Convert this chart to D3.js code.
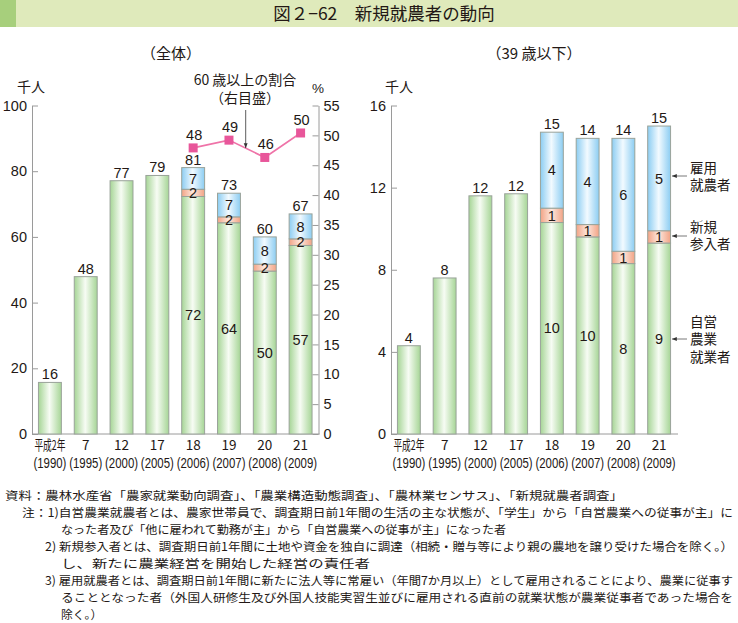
<!DOCTYPE html>
<html><head><meta charset="utf-8">
<script src="https://cdn.jsdelivr.net/npm/d3@7"></script>
<style>
html,body{margin:0;padding:0;background:#fff;}
svg{display:block;font-family:"Liberation Sans",Arial,"Noto Sans CJK JP",sans-serif;}
.jp{font-family:"Noto Sans CJK JP",sans-serif;}
</style></head>
<body>
<svg id="c" width="738" height="623"></svg>
<script>
// ---------- data ----------
const categories = ["平成2年","7","12","17","18","19","20","21"];
const yearLabels = ["(1990)","(1995)","(2000)","(2005)","(2006)","(2007)","(2008)","(2009)"];
// 全体 (千人)
const allSelfEmployed = [15.7, 47.9, 77.1, 78.7, 72.3, 64.3, 49.6, 57.4];
const allNewEntrants  = [0, 0, 0, 0, 2.2, 1.8, 2.1, 2.0];
const allEmployed     = [0, 0, 0, 0, 6.6, 7.2, 8.3, 7.6];
// 60歳以上の割合 (%), years 18-21
const ratioCategories = ["18","19","20","21"];
const ratio60Plus     = [47.9, 49.2, 46.3, 50.4];
// 39歳以下 (千人)
const youngSelfEmployed = [4.3, 7.6, 11.6, 11.7, 10.3, 9.6, 8.3, 9.3];
const youngNewEntrants  = [0, 0, 0, 0, 0.7, 0.6, 0.6, 0.6];
const youngEmployed     = [0, 0, 0, 0, 3.7, 4.2, 5.5, 5.1];
const leftTicks  = [0, 20, 40, 60, 80, 100];
const pctTicks   = [0,5,10,15,20,25,30,35,40,45,50,55];
const rightTicks = [0, 4, 8, 12, 16];
const footnotes = [
  "資料：農林水産省「農家就業動向調査」、「農業構造動態調査」、「農林業センサス」、「新規就農者調査」",
  "注：1)自営農業就農者とは、農家世帯員で、調査期日前1年間の生活の主な状態が、「学生」から「自営農業への従事が主」に",
  "なった者及び「他に雇われて勤務が主」から「自営農業への従事が主」になった者",
  "2) 新規参入者とは、調査期日前1年間に土地や資金を独自に調達（相続・贈与等により親の農地を譲り受けた場合を除く。）",
  "し、新たに農業経営を開始した経営の責任者",
  "3) 雇用就農者とは、調査期日前1年間に新たに法人等に常雇い（年間7か月以上）として雇用されることにより、農業に従事す",
  "ることとなった者（外国人研修生及び外国人技能実習生並びに雇用される直前の就業状態が農業従事者であった場合を",
  "除く。）"
];

// ---------- drawing ----------
const svg = d3.select("#c");
const TXT = "#231815", AX = "#9a9a9a";

// gradients
const defs = svg.append("defs");
function grad(id, edge, mid){
  const g = defs.append("linearGradient").attr("id", id).attr("x1","0%").attr("x2","100%").attr("y1","0%").attr("y2","0%");
  g.append("stop").attr("offset","0%").attr("stop-color", edge);
  g.append("stop").attr("offset","48%").attr("stop-color", mid);
  g.append("stop").attr("offset","100%").attr("stop-color", edge);
}
grad("gGreen", "#a6d596", "#f7fcf4");
grad("gBlue",  "#8ccdf2", "#f2faff");
grad("gPink",  "#f2a385", "#fde8de");
const mk = defs.append("marker").attr("id","arr").attr("viewBox","0 0 10 10").attr("refX",10).attr("refY",5)
  .attr("markerWidth",6).attr("markerHeight",6).attr("orient","auto-start-reverse");
mk.append("path").attr("d","M0,1 L10,5 L0,9 Z").attr("fill","#333");

// title band
svg.append("rect").attr("x",0).attr("y",0).attr("width",738).attr("height",27).attr("fill","#dfeabb");
svg.append("rect").attr("x",0).attr("y",0).attr("width",16).attr("height",27).attr("fill","#a7cf7c");
svg.append("text").attr("class","jp").attr("x",384).attr("y",20).attr("text-anchor","middle")
  .attr("font-size",17.5).attr("fill",TXT).text("図２−62　新規就農者の動向");

function drawPanel(opt){
  const g = svg.append("g");
  const x = d3.scaleBand().domain(categories).range(opt.xr).paddingInner(0.36).paddingOuter(0.18);
  const y = d3.scaleLinear().domain([0, opt.ymax]).range([434, 105.5]);
  // axis
  const ax = g.append("g").attr("transform",`translate(${opt.xr[0]},0)`)
    .call(d3.axisLeft(y).tickValues(opt.ticks).tickSize(-6).tickSizeOuter(0).tickPadding(5));
  ax.select(".domain").attr("stroke",AX);
  ax.selectAll(".tick line").attr("stroke",AX);
  ax.selectAll(".tick text").attr("font-size",14.5).attr("fill",TXT).attr("font-family","Liberation Sans, Arial");
  g.append("line").attr("x1",opt.xr[0]).attr("x2",opt.xr[1]+1).attr("y1",y(0)).attr("y2",y(0)).attr("stroke",AX);
  // bars
  categories.forEach((c,i)=>{
    const bx = x(c), bw = x.bandwidth();
    const s = opt.self[i], n = opt.entr[i], e = opt.emp[i];
    const segs = [
      {v0:0, v1:s, f:"url(#gGreen)", v:s},
      {v0:s, v1:s+n, f:"url(#gPink)", v:n},
      {v0:s+n, v1:s+n+e, f:"url(#gBlue)", v:e}
    ];
    segs.forEach(sg=>{
      if(sg.v<=0) return;
      g.append("rect").attr("x",bx).attr("y",y(sg.v1)).attr("width",bw).attr("height",y(sg.v0)-y(sg.v1))
        .attr("fill",sg.f).attr("stroke","#9aa39a").attr("stroke-width",1);
    });
    const tot = s+n+e;
    g.append("text").attr("x",bx+bw/2).attr("y",y(tot)-3).attr("text-anchor","middle")
      .attr("font-size",14.5).attr("fill",TXT).text(Math.round(tot));
    if(n>0){
      segs.forEach(sg=>{
        g.append("text").attr("x",bx+bw/2).attr("y",y((sg.v0+sg.v1)/2)).attr("dy","0.36em")
          .attr("text-anchor","middle").attr("font-size",14.5).attr("fill",TXT).text(Math.round(sg.v));
      });
    }
    // x labels
    g.append("text").attr("class","jp").attr("x",bx+bw/2).attr("y",450).attr("text-anchor","middle")
      .attr("font-size",13.5).attr("fill",TXT).attr("textLength", i===0?31:null)
      .attr("lengthAdjust","spacingAndGlyphs").text(c);
    g.append("text").attr("x",bx+bw/2).attr("y",468).attr("text-anchor","middle")
      .attr("font-size",14).attr("fill",TXT).attr("textLength",33).attr("lengthAdjust","spacingAndGlyphs")
      .text(yearLabels[i]);
  });
  g.append("text").attr("class","jp").attr("x",opt.titleX).attr("y",59).attr("text-anchor","middle")
    .attr("font-size",15).attr("fill",TXT).text(opt.title);
  g.append("text").attr("class","jp").attr("x",opt.unitX).attr("y",92).attr("text-anchor","middle")
    .attr("font-size",14).attr("fill",TXT).text("千人");
  return {x, y, g};
}

const L = drawPanel({xr:[32,318.5], ymax:100, ticks:leftTicks, self:allSelfEmployed, entr:allNewEntrants,
  emp:allEmployed, title:"（全体）", titleX:171, unitX:31});
const R = drawPanel({xr:[391,677], ymax:16, ticks:rightTicks, self:youngSelfEmployed, entr:youngNewEntrants,
  emp:youngEmployed, title:"（39 歳以下）", titleX:534, unitX:399});

// right % axis of left panel
const yp = d3.scaleLinear().domain([0,55]).range([434,105.5]);
const axR = svg.append("g").attr("transform","translate(318.5,0)")
  .call(d3.axisRight(yp).tickValues(pctTicks).tickSize(-6).tickSizeOuter(0).tickPadding(5));
axR.select(".domain").attr("stroke",AX);
axR.selectAll(".tick line").attr("stroke",AX);
axR.selectAll(".tick text").attr("font-size",14.5).attr("fill",TXT);
svg.append("text").attr("x",318).attr("y",93).attr("text-anchor","middle").attr("font-size",13.5).attr("fill",TXT).text("%");

// ratio line
const cx = c => L.x(c) + L.x.bandwidth()/2;
const line = d3.line().x((d,i)=>cx(ratioCategories[i])).y(d=>yp(d));
svg.append("path").datum(ratio60Plus).attr("d",line).attr("fill","none").attr("stroke","#ef73a8").attr("stroke-width",1.6);
ratio60Plus.forEach((v,i)=>{
  svg.append("rect").attr("x",cx(ratioCategories[i])-4.5).attr("y",yp(v)-4.5).attr("width",9).attr("height",9).attr("fill","#e8569a");
  svg.append("text").attr("x",cx(ratioCategories[i])+1).attr("y",yp(v)-8).attr("text-anchor","middle")
    .attr("font-size",14.5).attr("fill",TXT).text(Math.round(v));
});
// annotation
svg.append("text").attr("class","jp").attr("x",245).attr("y",85).attr("text-anchor","middle").attr("font-size",14).attr("fill",TXT).text("60 歳以上の割合");
svg.append("text").attr("class","jp").attr("x",245).attr("y",103).attr("text-anchor","middle").attr("font-size",14).attr("fill",TXT).text("（右目盛）");
svg.append("line").attr("x1",245.7).attr("x2",245.7).attr("y1",110).attr("y2",148).attr("stroke","#333").attr("stroke-width",0.8).attr("marker-end","url(#arr)");

// right legend labels
const legend = [
  {lines:["雇用","就農者"], y0:168, ay:176},
  {lines:["新規","参入者"], y0:227, ay:236},
  {lines:["自営","農業","就業者"], y0:322, ay:339}
];
legend.forEach(l=>{
  l.lines.forEach((t,j)=>{
    svg.append("text").attr("class","jp").attr("x",690).attr("y",l.y0+j*17.5).attr("dy","0.36em")
      .attr("font-size",13.5).attr("fill",TXT).text(t);
  });
  svg.append("line").attr("x1",687).attr("x2",672).attr("y1",l.ay).attr("y2",l.ay).attr("stroke","#555").attr("stroke-width",0.8).attr("marker-end","url(#arr)");
});

// footnotes
const fnX = [5,22,61,45,61,45,61,61];
const fnW = [618,711,445,688,309,688,672,null];
footnotes.forEach((t,i)=>{
  const tx = svg.append("text").attr("class","jp").attr("x",fnX[i]).attr("y",499.5+i*17.1)
    .attr("font-size",11.8).attr("fill",TXT).text(t);
  if(fnW[i]) tx.attr("textLength",fnW[i]).attr("lengthAdjust","spacingAndGlyphs");
});
</script>
</body></html>
